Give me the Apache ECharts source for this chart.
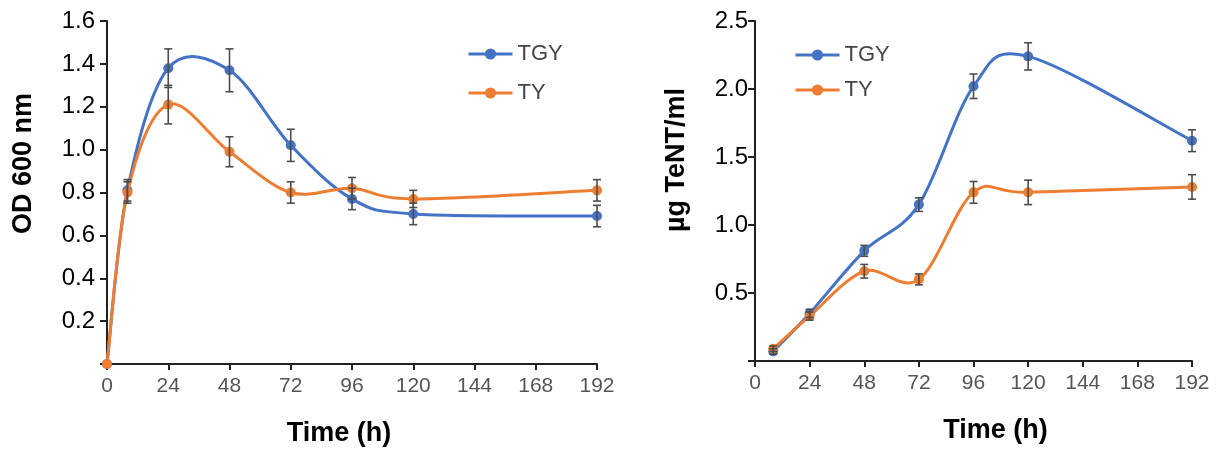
<!DOCTYPE html>
<html>
<head>
<meta charset="utf-8">
<script src="https://cdn.jsdelivr.net/npm/echarts@6/dist/echarts.min.js"></script>
<style>
  html, body { margin: 0; padding: 0; background: #ffffff; }
  #chart { width: 1222px; height: 453px; }
</style>
</head>
<body>
<div id="chart"></div>
<script>
// growth (OD 600 nm)
const odHours = [0, 8, 24, 48, 72, 96, 120, 192];
const odTGY = [0, 0.81, 1.38, 1.37, 1.02, 0.77, 0.70, 0.69];
const odTY = [0, 0.80, 1.21, 0.99, 0.80, 0.82, 0.77, 0.81];
const odTGYErr = [0, 0.05, 0.09, 0.10, 0.075, 0.05, 0.05, 0.05];
const odTYErr = [0, 0.05, 0.09, 0.07, 0.05, 0.05, 0.04, 0.05];

// toxin yield (ug TeNT/ml)
const tenHours = [8, 24, 48, 72, 96, 120, 192];
const tenTGY = [0.07, 0.35, 0.81, 1.15, 2.02, 2.24, 1.62];
const tenTY = [0.09, 0.33, 0.66, 0.60, 1.24, 1.24, 1.28];
const tenTGYErr = [0.02, 0.03, 0.04, 0.05, 0.09, 0.10, 0.08];
const tenTYErr = [0.02, 0.03, 0.05, 0.04, 0.08, 0.09, 0.09];

const seriesNames = ["TGY", "TY"];
const colors = { TGY: "#4472C4", TY: "#ED7D31" };
const font = "'Liberation Sans', Arial, sans-serif";

const pairs = (xs, ys) => xs.map((x, i) => [x, ys[i]]);
const errRows = (xs, ys, es) =>
  xs.map((x, i) => [x, ys[i] - es[i], ys[i] + es[i]]).filter((r, i) => es[i] > 0);

const renderErr = (params, api) => {
  const x = api.value(0);
  const lo = api.coord([x, api.value(1)]);
  const hi = api.coord([x, api.value(2)]);
  const cap = 4;
  const style = { stroke: "#4d4d4d", lineWidth: 1.6 };
  return {
    type: "group",
    children: [
      { type: "line", shape: { x1: lo[0], y1: lo[1], x2: hi[0], y2: hi[1] }, style },
      { type: "line", shape: { x1: hi[0] - cap, y1: hi[1], x2: hi[0] + cap, y2: hi[1] }, style },
      { type: "line", shape: { x1: lo[0] - cap, y1: lo[1], x2: lo[0] + cap, y2: lo[1] }, style },
    ],
  };
};

// spreadsheet-style smoothing (catmull-rom through the points, as bezier)
const curveRender = (color) => (params, api) => {
  if (params.dataIndexInside !== 0) return null;
  const n = params.dataInsideLength;
  const pts = [];
  for (let i = 0; i < n; i += 1) {
    pts.push(api.coord([api.value(0, i), api.value(1, i)]));
  }
  let d = `M${pts[0][0]},${pts[0][1]}`;
  for (let i = 0; i < n - 1; i += 1) {
    const p0 = pts[Math.max(i - 1, 0)];
    const p1 = pts[i];
    const p2 = pts[i + 1];
    const p3 = pts[Math.min(i + 2, n - 1)];
    const c1x = p1[0] + (p2[0] - p0[0]) / 6;
    const c1y = p1[1] + (p2[1] - p0[1]) / 6;
    const c2x = p2[0] - (p3[0] - p1[0]) / 6;
    const c2y = p2[1] - (p3[1] - p1[1]) / 6;
    d += ` C${c1x},${c1y} ${c2x},${c2y} ${p2[0]},${p2[1]}`;
  }
  return {
    type: "path",
    shape: { pathData: d },
    style: { stroke: color, lineWidth: 3, fill: "none" },
  };
};

const curveSeries = (name, idx, data) => ({
  type: "custom",
  name: name + " curve",
  xAxisIndex: idx,
  yAxisIndex: idx,
  renderItem: curveRender(colors[name]),
  encode: { x: 0, y: 1 },
  data,
  z: name === "TY" ? 4 : 2,
  silent: true,
  animation: false,
});

const markerSeries = (name, idx, data) => ({
  type: "line",
  name,
  xAxisIndex: idx,
  yAxisIndex: idx,
  data,
  symbol: "circle",
  symbolSize: 10,
  color: colors[name],
  lineStyle: { width: 3, color: colors[name], opacity: 0 },
  itemStyle: { color: colors[name] },
  z: name === "TY" ? 5 : 3,
  animation: false,
});

const errSeries = (name, idx, rows) => ({
  type: "custom",
  name: name + " err",
  xAxisIndex: idx,
  yAxisIndex: idx,
  renderItem: renderErr,
  encode: { x: 0, y: [1, 2] },
  data: rows,
  z: 6,
  silent: true,
  animation: false,
});

const xAxisBase = (idx, shift) => ({
  type: "value",
  gridIndex: idx,
  min: 0,
  max: 192,
  interval: 24,
  name: "Time (h)",
  nameLocation: "middle",
  nameGap: 56,
  nameTextStyle: {
    color: "#000",
    fontSize: 27,
    fontWeight: "bold",
    fontFamily: font,
    padding: shift > 0 ? [0, 0, 0, shift] : [0, -shift, 0, 0],
  },
  axisLine: { lineStyle: { color: "#222", width: 2 } },
  axisTick: { show: true, length: 6, lineStyle: { color: "#222", width: 2 } },
  axisLabel: { color: "#555", fontSize: 21, fontFamily: font, margin: 12 },
  splitLine: { show: false },
});

const yAxisBase = (idx, name, max, interval, gap, margin, lift) => ({
  type: "value",
  gridIndex: idx,
  min: 0,
  max,
  interval,
  name,
  nameLocation: "middle",
  nameGap: gap,
  nameTextStyle: {
    color: "#000",
    fontSize: 27,
    fontWeight: "bold",
    fontFamily: font,
    padding: [0, 0, 0, lift],
  },
  axisLine: { show: true, lineStyle: { color: "#222", width: 2 } },
  axisTick: { show: true, length: 7, lineStyle: { color: "#222", width: 2 } },
  axisLabel: {
    color: "#000",
    fontSize: 24,
    fontFamily: font,
    margin,
    formatter: (v) => (v === 0 ? "" : v.toFixed(1)),
  },
  splitLine: { show: false },
});

const legendBase = (left, top, gap) => ({
  data: seriesNames.map((name) => ({
    name,
    lineStyle: { color: colors[name], width: 3, opacity: 1 },
  })),
  orient: "vertical",
  left,
  top,
  itemWidth: 44,
  itemHeight: 14,
  itemGap: gap,
  textStyle: { color: "#444", fontSize: 22, fontFamily: font },
  selectedMode: false,
});

const chart = echarts.init(document.getElementById("chart"), null, { renderer: "canvas" });

chart.setOption({
  backgroundColor: "#ffffff",
  animation: false,
  grid: [
    { left: 107, right: 625, top: 21, bottom: 89, containLabel: false },
    { left: 755, right: 30, top: 21, bottom: 92, containLabel: false },
  ],
  legend: [legendBase(462, 38, 17), legendBase(789, 39, 13)],
  xAxis: [xAxisBase(0, -26), xAxisBase(1, 44)],
  yAxis: [
    yAxisBase(0, "OD 600 nm", 1.6, 0.2, 70, 12, 58),
    yAxisBase(1, "µg TeNT/ml", 2.5, 0.5, 65, 7, 62),
  ],
  series: [
    curveSeries("TGY", 0, pairs(odHours, odTGY)),
    curveSeries("TY", 0, pairs(odHours, odTY)),
    markerSeries("TGY", 0, pairs(odHours, odTGY)),
    markerSeries("TY", 0, pairs(odHours, odTY)),
    errSeries("TGY", 0, errRows(odHours, odTGY, odTGYErr)),
    errSeries("TY", 0, errRows(odHours, odTY, odTYErr)),
    curveSeries("TGY", 1, pairs(tenHours, tenTGY)),
    curveSeries("TY", 1, pairs(tenHours, tenTY)),
    markerSeries("TGY", 1, pairs(tenHours, tenTGY)),
    markerSeries("TY", 1, pairs(tenHours, tenTY)),
    errSeries("TGY", 1, errRows(tenHours, tenTGY, tenTGYErr)),
    errSeries("TY", 1, errRows(tenHours, tenTY, tenTYErr)),
  ],
});
</script>
</body>
</html>
